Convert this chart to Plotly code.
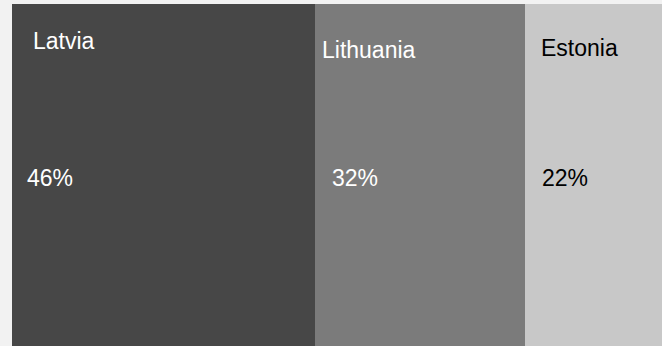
import plotly.graph_objects as go

countries = ["Latvia", "Lithuania", "Estonia"]
shares = [46, 32, 22]
colors = ["#474747", "#7b7b7b", "#c8c8c8"]
text_colors = ["#ffffff", "#ffffff", "#000000"]

fig = go.Figure()
for name, val, col in zip(countries, shares, colors):
    fig.add_trace(go.Bar(
        y=["share"], x=[val], name=name, orientation="h",
        marker=dict(color=col, line=dict(width=0)),
        hoverinfo="skip", showlegend=False,
    ))

# label placement: name near the top, percentage mid-height
name_y = [0.892, 0.866, 0.871]
name_shift = [19, 5, 14]
pct_shift = [13, 15, 15]
font_family = "Arial, Liberation Sans"
start = 0
annotations = []
for i, (name, val) in enumerate(zip(countries, shares)):
    annotations.append(dict(
        x=start, y=name_y[i], xref="x", yref="paper", text=name,
        showarrow=False, xanchor="left", yanchor="middle", xshift=name_shift[i],
        font=dict(family=font_family, size=23, color=text_colors[i]),
    ))
    annotations.append(dict(
        x=start, y=0.491, xref="x", yref="paper", text=f"{val}%",
        showarrow=False, xanchor="left", yanchor="middle", xshift=pct_shift[i],
        font=dict(family=font_family, size=23, color=text_colors[i]),
    ))
    start += val

fig.update_layout(
    width=662, height=346,
    margin=dict(l=12, r=0, t=4, b=0),
    barmode="stack", bargap=0,
    paper_bgcolor="#f2f2f2", plot_bgcolor="#f2f2f2",
    xaxis=dict(range=[0, 98.8], visible=False, fixedrange=True),
    yaxis=dict(visible=False, fixedrange=True),
    annotations=annotations,
)
fig.write_html("out.html", config={"displayModeBar": False})
